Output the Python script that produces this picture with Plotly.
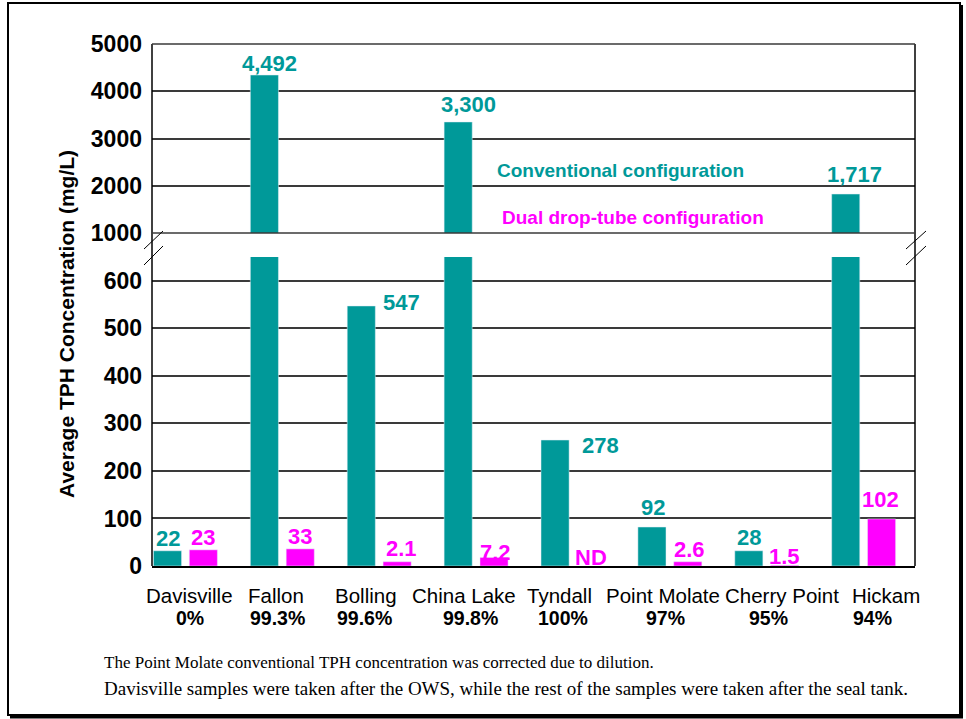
import plotly.graph_objects as go

# ---------------- data ----------------
sites = ["Davisville", "Fallon", "Bolling", "China Lake", "Tyndall",
         "Point Molate", "Cherry Point", "Hickam"]
removal = ["0%", "99.3%", "99.6%", "99.8%", "100%", "97%", "95%", "94%"]
# bar heights as drawn in the picture (mg/L)
conv_vals = [32, 4344, 547, 3350, 265, 82, 32, 1825]
dual_vals = [34, 36, 9, 18, None, 9, 1.5, 99]
# value labels printed on the chart
conv_labels = ["22", "4,492", "547", "3,300", "278", "92", "28", "1,717"]
dual_labels = ["23", "33", "2.1", "7.2", "ND", "2.6", "1.5", "102"]
low_ticks = [0, 100, 200, 300, 400, 500, 600]
high_ticks = [1000, 2000, 3000, 4000, 5000]
legend_texts = ["Conventional configuration", "Dual drop-tube configuration"]
notes = ["The Point Molate conventional TPH concentration was corrected due to dilution.",
         "Davisville samples were taken after the OWS, while the rest of the samples were taken after the seal tank."]

# ---------------- style ----------------
W, H = 966, 719
TEAL = "#009999"
MAG = "#FF00FF"
SANS = "Liberation Sans, Arial, sans-serif"
SERIF = "Liberation Serif, Times New Roman, serif"
LOW_MAX = 650
BAR_W = 0.29
CONV_OFF = -0.33
DUAL_OFF = 0.04
conv_lab_shift = [(0, 12), (5, 12), (40, 3), (10, 17), (45, -5), (1, 20), (0, 13), (9, 20)]
dual_lab_shift = [(0, 12), (0, 12), (4, 13), (1, 5), (0, 9), (2, 12), (0, 9), (-1, 19)]
name_shift = [4, -6, -13, -12, -13, -7, 15, 22]
pct_shift = [5, -5, -15, -6, -10, -4, 2, 9]
note_sizes = [17, 19]

def px(x):
    return x / W

def py(y):
    return 1 - y / H

X_L, X_R = 152, 915
Y_BOT, Y_LOWTOP, Y_HIGHBOT, Y_TOP = 566, 257, 233, 44

fig = go.Figure()
for xa, ya in (("x", "y"), ("x2", "y2")):
    fig.add_trace(go.Bar(x=sites, y=conv_vals, marker_color=TEAL, width=BAR_W,
                         offset=CONV_OFF, xaxis=xa, yaxis=ya, showlegend=False,
                         name="Conventional"))
    fig.add_trace(go.Bar(x=sites, y=dual_vals, marker_color=MAG, width=BAR_W,
                         offset=DUAL_OFF, xaxis=xa, yaxis=ya, showlegend=False,
                         name="Dual drop-tube"))

annotations = []
conv_c = CONV_OFF + BAR_W / 2
dual_c = DUAL_OFF + BAR_W / 2
for i in range(len(sites)):
    for vals, labs, shifts, off, col in ((conv_vals, conv_labels, conv_lab_shift, conv_c, TEAL),
                                         (dual_vals, dual_labels, dual_lab_shift, dual_c, MAG)):
        v = vals[i] if vals[i] is not None else 0
        yref = "y2" if v > LOW_MAX else "y"
        dx, dy = shifts[i]
        annotations.append(dict(x=i + off, y=v, xref="x", yref=yref, text=labs[i],
                                showarrow=False, xanchor="center", yanchor="middle",
                                xshift=dx, yshift=dy,
                                font=dict(family=SANS, size=22, color=col, weight="bold")))

# legend-like texts
annotations.append(dict(x=px(620), y=py(170), xref="paper", yref="paper", text=legend_texts[0],
                        showarrow=False, xanchor="center", yanchor="middle",
                        font=dict(family=SANS, size=19, color=TEAL, weight="bold")))
annotations.append(dict(x=px(633), y=py(217), xref="paper", yref="paper", text=legend_texts[1],
                        showarrow=False, xanchor="center", yanchor="middle",
                        font=dict(family=SANS, size=19, color=MAG, weight="bold")))
# y title
annotations.append(dict(x=px(66), y=py(324), xref="paper", yref="paper",
                        text="Average TPH Concentration (mg/L)", textangle=-90,
                        showarrow=False, xanchor="center", yanchor="middle",
                        font=dict(family=SANS, size=21, color="black", weight="bold")))
# site names and removal percentages under the axis
for i, (s, p) in enumerate(zip(sites, removal)):
    annotations.append(dict(x=i, y=py(595), xref="x", yref="paper", text=s,
                            showarrow=False, xanchor="center", yanchor="middle",
                            xshift=name_shift[i],
                            font=dict(family=SANS, size=20.5, color="black")))
    annotations.append(dict(x=i, y=py(618), xref="x", yref="paper", text=p,
                            showarrow=False, xanchor="center", yanchor="middle",
                            xshift=pct_shift[i],
                            font=dict(family=SANS, size=19.5, color="black", weight="bold")))
# footnotes
for t, yy, fs in zip(notes, (662, 688), note_sizes):
    annotations.append(dict(x=px(102), y=py(yy), xref="paper", yref="paper", text=t,
                            showarrow=False, xanchor="left", yanchor="middle",
                            font=dict(family=SERIF, size=fs, color="black")))

shapes = []
line_k = dict(color="black", width=1.5)
grid_c = dict(color="#3a3a3a", width=1.5)
# plot frame verticals
for xx in (X_L, X_R):
    shapes.append(dict(type="line", xref="paper", yref="paper", x0=px(xx), x1=px(xx),
                       y0=py(Y_BOT), y1=py(Y_TOP), line=line_k))
# top/bottom of upper panel
for yy in (Y_TOP, Y_HIGHBOT):
    shapes.append(dict(type="line", xref="paper", yref="paper", x0=px(X_L), x1=px(X_R),
                       y0=py(yy), y1=py(yy), line=grid_c))
# break marks
for (x0, x1) in ((144, 163), (906, 926)):
    for (ya, yb) in ((249, 231), (265, 246)):
        shapes.append(dict(type="line", xref="paper", yref="paper", x0=px(x0), x1=px(x1),
                           y0=py(ya), y1=py(yb), line=dict(color="black", width=1)))
# outer border with shadow
shapes.append(dict(type="rect", xref="paper", yref="paper", x0=px(8), x1=px(960),
                   y0=py(715), y1=py(3), line=dict(color="black", width=2)))
shapes.append(dict(type="line", xref="paper", yref="paper", x0=px(961), x1=px(961),
                   y0=py(717), y1=py(5), line=dict(color="black", width=4)))
shapes.append(dict(type="line", xref="paper", yref="paper", x0=px(10), x1=px(963),
                   y0=py(716.5), y1=py(716.5), line=dict(color="black", width=4)))

xdom = [px(X_L), px(X_R)]
fig.update_layout(
    width=W, height=H, autosize=False,
    margin=dict(l=0, r=0, t=0, b=0, pad=0),
    paper_bgcolor="white", plot_bgcolor="white",
    barmode="overlay",
    xaxis=dict(domain=xdom, type="category", range=[-0.345, 7.53], anchor="y",
               showline=True, linecolor="black", linewidth=2, ticks="",
               showgrid=False, showticklabels=False, automargin=False),
    xaxis2=dict(domain=xdom, matches="x", anchor="y2", showticklabels=False,
                showline=False, showgrid=False, ticks="", automargin=False),
    yaxis=dict(domain=[py(Y_BOT), py(Y_LOWTOP)], range=[0, LOW_MAX], anchor="x",
               tickvals=low_ticks, ticks="", showline=False, zeroline=False,
               showgrid=True, gridcolor="#3a3a3a", gridwidth=1.5, ticklabelstandoff=9,
               automargin=False,
               tickfont=dict(family=SANS, size=23, color="black", weight="bold")),
    yaxis2=dict(domain=[py(Y_HIGHBOT), py(Y_TOP)], range=[1000, 5000], anchor="x2",
                tickvals=high_ticks, ticks="", showline=False, zeroline=False,
                showgrid=True, gridcolor="#3a3a3a", gridwidth=1.5, ticklabelstandoff=9,
                automargin=False,
                tickfont=dict(family=SANS, size=23, color="black", weight="bold")),
    annotations=annotations,
    shapes=shapes,
)

fig.write_html("out.html",
               config={"responsive": False, "displayModeBar": False},
               post_script=("var gd=document.getElementById('{plot_id}');"
                            "document.documentElement.style.margin='0';"
                            "document.documentElement.style.overflow='hidden';"
                            "document.body.style.margin='0';"
                            "document.body.style.overflow='hidden';"
                            "gd.style.position='fixed';gd.style.top='0px';gd.style.left='0px';"))
